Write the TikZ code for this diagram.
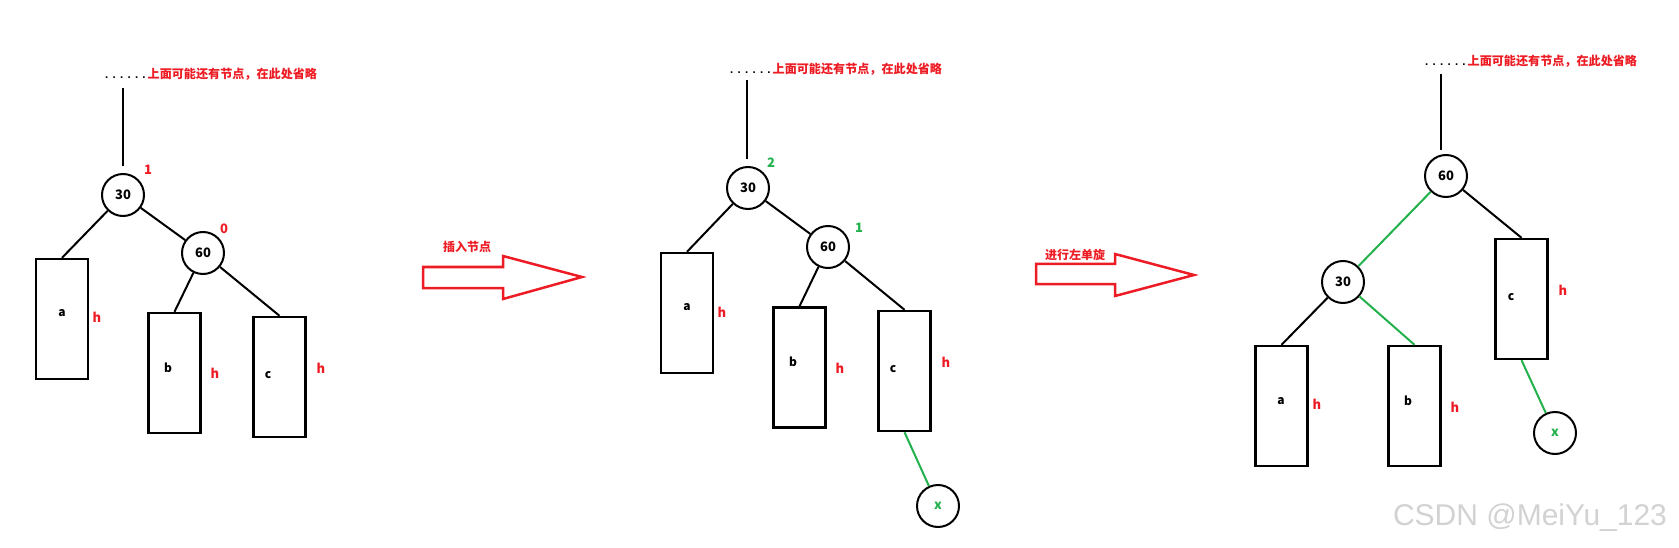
\documentclass[tikz,border=0pt]{standalone}
\usepackage{fontspec}
\setmainfont{Liberation Sans}
\newfontfamily\cjk{Noto Sans CJK SC}
\newfontfamily\wmfont{Liberation Sans}
\definecolor{pred}{HTML}{ED1C24}
\definecolor{pgreen}{HTML}{22B14C}
\newcommand{\omitnote}{{\wmfont\fontsize{11.5}{12}\selectfont . . . . . .}\kern2pt{\cjk\bfseries\color{pred}上面可能还有节点，在此处省略}}
\tikzset{
  tnode/.style={circle, draw, line width=2pt, minimum size=42pt, inner sep=0pt,
    font=\cjk\bfseries\fontsize{13}{13}\selectfont},
  subtree/.style={rectangle, draw, line width=2.4pt, minimum width=52pt,
    minimum height=120pt, inner sep=0pt},
  tlet/.style={font=\cjk\bfseries\fontsize{12}{12}\selectfont, inner sep=0pt},
  hlab/.style={text=pred, font=\cjk\bfseries\fontsize{13}{13}\selectfont, inner sep=0pt},
  bal/.style={font=\cjk\bfseries\fontsize{13}{13}\selectfont, inner sep=0pt},
  edge/.style={line width=2pt},
  gedge/.style={line width=2pt, draw=pgreen},
  topedge/.style={line width=2pt},
  note/.style={anchor=base west, inner sep=0pt, font=\cjk\bfseries\fontsize{12.1}{13}\selectfont},
  bigarrow/.style={draw=pred, line width=2.5pt, line join=miter},
  arrlab/.style={text=pred, font=\cjk\bfseries\fontsize{12}{12}\selectfont, inner sep=0pt},
}
\begin{document}
\begin{tikzpicture}[x=1pt, y=-1pt]
\useasboundingbox (0,0) rectangle (1679,548);

% ---------- left tree ----------
\node[note] (n1) at (105,79) {\omitnote};
\coordinate (t1) at (123,88);
\coordinate (e1) at (123,166);
\node[tnode] (L30) at (123,195) {30};
\node[tnode] (L60) at (203,253) {60};
\node[subtree] (La) at (62,319) {};
\node[subtree] (Lb) at (174.5,373) {};
\node[subtree] (Lc) at (279.5,377) {};
\node[tlet] (Lat) at (62,313) {a};
\node[tlet] (Lbt) at (168,368) {b};
\node[tlet] (Lct) at (268,375) {c};
\node[hlab] (Lah) at (97,317) {h};
\node[hlab] (Lbh) at (215,373) {h};
\node[hlab] (Lch) at (321,368) {h};
\node[bal, text=pred] (Lb1) at (148,170) {1};
\node[bal, text=pred] (Lb0) at (224,229) {0};
\draw[topedge] (t1) -- (e1);
\draw[edge] (L30) -- (La.north);
\draw[edge] (L30) -- (L60);
\draw[edge] (L60) -- (Lb.north);
\draw[edge] (L60) -- (Lc.north);

% ---------- arrow 1 ----------
\draw[bigarrow] (423,267) -- (503,267) -- (503,256) -- (582,277) -- (503,299) -- (503,288) -- (423,288) -- cycle;
\node[arrlab] (al1) at (467,247) {插入节点};

% ---------- middle tree ----------
\node[note] (n2) at (730,74) {\omitnote};
\coordinate (t2) at (747,80);
\coordinate (e2) at (747,159);
\node[tnode] (M30) at (748,188) {30};
\node[tnode] (M60) at (828,247) {60};
\node[subtree] (Ma) at (687,313) {};
\node[subtree] (Mb) at (799.5,367.5) {};
\node[subtree] (Mc) at (904.5,371) {};
\node[tnode, text=pgreen] (Mx) at (938,506) {x};
\node[tlet] (Mat) at (687,307) {a};
\node[tlet] (Mbt) at (793,362) {b};
\node[tlet] (Mct) at (893,369) {c};
\node[hlab] (Mah) at (722,312) {h};
\node[hlab] (Mbh) at (840,368) {h};
\node[hlab] (Mch) at (946,362) {h};
\node[bal, text=pgreen] (Mb2) at (771,163) {2};
\node[bal, text=pgreen] (Mb1) at (859,228) {1};
\draw[topedge] (t2) -- (e2);
\draw[edge] (M30) -- (Ma.north);
\draw[edge] (M30) -- (M60);
\draw[edge] (M60) -- (Mb.north);
\draw[edge] (M60) -- (Mc.north);
\draw[gedge] (Mc.south) -- (Mx);

% ---------- arrow 2 ----------
\draw[bigarrow] (1036,264) -- (1115,264) -- (1115,254) -- (1194,275) -- (1115,296) -- (1115,284) -- (1036,284) -- cycle;
\node[arrlab] (al2) at (1075,255) {进行左单旋};

% ---------- right tree ----------
\node[note] (n3) at (1425,66) {\omitnote};
\coordinate (t3) at (1441,74);
\coordinate (e3) at (1441,150);
\node[tnode] (R60) at (1446,176) {60};
\node[tnode] (R30) at (1343,282) {30};
\node[subtree] (Rc) at (1521.5,299) {};
\node[subtree] (Ra) at (1281.5,406) {};
\node[subtree] (Rb) at (1414.5,406) {};
\node[tnode, text=pgreen] (Rx) at (1555,433) {x};
\node[tlet] (Rct) at (1511,297) {c};
\node[tlet] (Rat) at (1281,401) {a};
\node[tlet] (Rbt) at (1408,401) {b};
\node[hlab] (Rch) at (1563,290) {h};
\node[hlab] (Rah) at (1317,404) {h};
\node[hlab] (Rbh) at (1455,407) {h};
\draw[topedge] (t3) -- (e3);
\draw[gedge] (R60) -- (R30);
\draw[edge] (R60) -- (Rc.north);
\draw[edge] (R30) -- (Ra.north);
\draw[gedge] (R30) -- (Rb.north);
\draw[gedge] (Rc.south) -- (Rx);

% ---------- watermark ----------
\node[text=gray!35, font=\wmfont\fontsize{30}{30}\selectfont, inner sep=0pt] (wm) at (1530,518) {CSDN @MeiYu\_123};
\end{tikzpicture}
\end{document}
